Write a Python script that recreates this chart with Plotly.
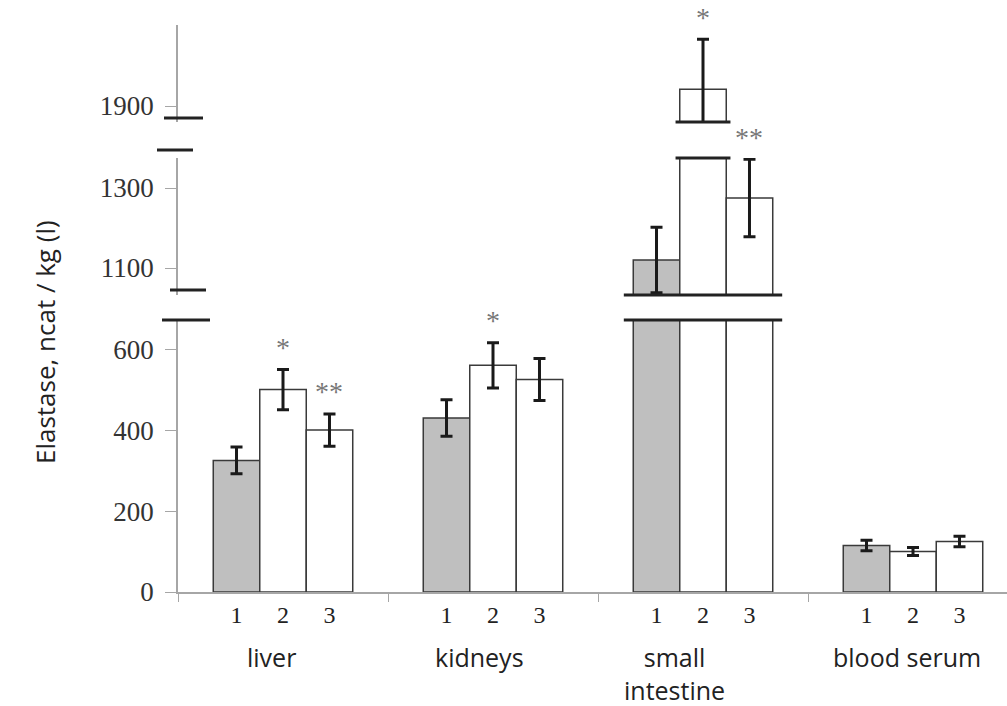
import plotly.graph_objects as go

# ---------------- data ----------------
categories = ["liver", "kidneys", "small<br>intestine", "blood serum"]
group_labels = ["1", "2", "3"]
group1_mean = [325, 430, 1120, 115]
group2_mean = [500, 560, 1942, 100]
group3_mean = [400, 525, 1275, 125]
group1_err = [33, 45, 82, 13]
group2_err = [50, 56, 125, 10]
group3_err = [40, 52, 97, 13]
stars = [["", "*", "**"], ["", "*", ""], ["", "*", "**"], ["", "", ""]]

means = [group1_mean, group2_mean, group3_mean]
errs = [group1_err, group2_err, group3_err]
fills = ["#bfbfbf", "#ffffff", "#ffffff"]

# ---------------- layout geometry ----------------
W, H = 1007, 706
L = 178
def py(p):  # pixel row -> paper y
    return 1 - p / H
def px(p):  # pixel column -> paper x
    return (p - L) / (W - L)

seg_ranges = {"y": [0, 672], "y2": [1032.5, 1375], "y3": [1860, 2102.5]}
seg_domains = {"y": [py(592), py(320)], "y2": [py(295), py(158)], "y3": [py(122), py(25)]}
seg_ticks = {"y": [0, 200, 400, 600], "y2": [1100, 1300], "y3": [1900]}

bw = 0.2214  # bar width in category units
ncat = len(categories)
cat_idx = list(range(ncat))

fig = go.Figure()
for yax in ["y", "y2", "y3"]:
    for j in range(3):
        fig.add_trace(go.Bar(
            x=[i + (j - 1) * bw for i in cat_idx],
            y=means[j],
            width=bw,
            marker=dict(color=fills[j], line=dict(color="#3a3a3a", width=1.5)),
            error_y=dict(type="data", array=errs[j], color="#1a1a1a",
                         thickness=3, width=6),
            yaxis=yax, xaxis="x", showlegend=False, hoverinfo="skip",
        ))

# x tick labels (1 2 3 under each bar)
tickvals = [i + (j - 1) * bw for i in cat_idx for j in range(3)]
ticktext = [group_labels[j] for i in cat_idx for j in range(3)]

axis_color = "#a6a6a6"
fig.update_layout(
    width=W, height=H,
    margin=dict(l=L, r=0, t=0, b=0, autoexpand=False),
    plot_bgcolor="white", paper_bgcolor="white",
    barmode="overlay",
    xaxis=dict(
        range=[-0.5, -0.5 + (W - L) / 210], anchor="y", automargin=False,
        showline=True, linecolor=axis_color, linewidth=1.5,
        tickmode="array", tickvals=tickvals, ticktext=ticktext,
        ticks="", ticklabelstandoff=0,
        tickfont=dict(family="Liberation Serif", size=24, color="#222"),
        showgrid=False, zeroline=False,
        minor=dict(tickmode="array", tickvals=[i - 0.5 for i in range(ncat + 1)],
                   ticks="outside", ticklen=8, tickcolor=axis_color, tickwidth=1.2,
                   showgrid=False),
    ),
)
for yax in ["y", "y2", "y3"]:
    key = "yaxis" if yax == "y" else "yaxis" + yax[1:]
    fig.layout[key] = dict(
        domain=seg_domains[yax], range=seg_ranges[yax], anchor="x", automargin=False,
        showline=True, linecolor=axis_color, linewidth=1.5,
        tickmode="array", tickvals=seg_ticks[yax],
        ticks="outside", ticklen=11, tickcolor=axis_color, tickwidth=1.2,
        ticklabelstandoff=6,
        tickfont=dict(family="Liberation Serif", size=27, color="#333"),
        showgrid=False, zeroline=False,
    )

# ---------------- axis-break marks ----------------
shapes = []
brk = dict(color="#222", width=3)
for (row, x0, x1) in [(320, 162, 210), (290, 170, 206), (150, 157, 193), (118, 164, 203)]:
    shapes.append(dict(type="line", xref="paper", yref="paper",
                       x0=px(x0), x1=px(x1), y0=py(row), y1=py(row), line=brk))
si = 2
ext = 1.5 * bw + 0.045
shapes += [
    dict(type="line", xref="x", yref="y domain", x0=si - ext, x1=si + ext, y0=1, y1=1, line=brk),
    dict(type="line", xref="x", yref="y2 domain", x0=si - ext, x1=si + ext, y0=0, y1=0, line=brk),
    dict(type="line", xref="x", yref="y2 domain", x0=si - 0.5 * bw - 0.02, x1=si + 0.5 * bw + 0.02,
         y0=1, y1=1, line=brk),
    dict(type="line", xref="x", yref="y3 domain", x0=si - 0.5 * bw - 0.02, x1=si + 0.5 * bw + 0.02,
         y0=0, y1=0, line=brk),
]
fig.update_layout(shapes=shapes)

# ---------------- annotations ----------------
ann = []
def seg_for(v):
    if v <= seg_ranges["y"][1]:
        return "y"
    if v <= seg_ranges["y2"][1]:
        return "y2"
    return "y3"

for i in cat_idx:
    for j in range(3):
        s = stars[i][j]
        if s:
            top = means[j][i] + errs[j][i]
            ann.append(dict(x=i + (j - 1) * bw, y=top, xref="x", yref=seg_for(top),
                            text=s, showarrow=False, yanchor="middle", yshift=22,
                            font=dict(family="Liberation Serif", size=28, color="#777")))

label_shift = [-12, -14, -29, -6]
for i, c in enumerate(categories):
    ann.append(dict(x=i, y=py(638), xref="x", yref="paper", text=c, showarrow=False,
                    yanchor="top", xshift=label_shift[i],
                    font=dict(family="Open Sans", size=25, color="#222")))

ann.append(dict(x=px(25), y=py(342), xref="paper", yref="paper",
                text="Elastase, ncat / kg (l)", showarrow=False, textangle=-90,
                font=dict(family="Open Sans", size=26, color="#222")))
fig.update_layout(annotations=ann)

fig.write_html("out.html")
